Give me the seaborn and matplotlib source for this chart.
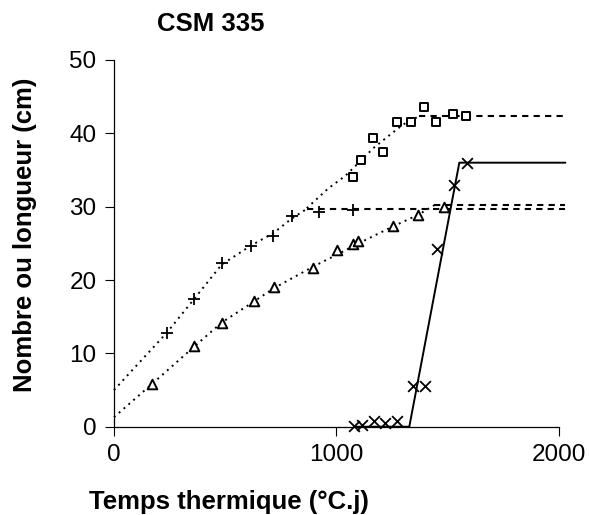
import matplotlib
matplotlib.use("Agg")
import matplotlib.pyplot as plt
import seaborn as sns
import pandas as pd

# Observed values (thermal time in degree-days)
plus_x = [237, 360, 484, 616, 717, 800, 924, 1074]
plus_y = [12.8, 17.4, 22.3, 24.6, 26.0, 28.7, 29.3, 29.6]

tri_x = [170, 360, 484, 631, 720, 894, 1005, 1077, 1099, 1254, 1369, 1484]
tri_y = [5.8, 11.0, 14.2, 17.1, 19.0, 21.7, 24.1, 24.9, 25.3, 27.3, 28.9, 30.0]

sq_x = [1074, 1111, 1167, 1211, 1272, 1336, 1396, 1448, 1526, 1583]
sq_y = [34.1, 36.4, 39.4, 37.5, 41.6, 41.6, 43.6, 41.5, 42.7, 42.4]

cross_x = [1080, 1114, 1171, 1219, 1272, 1346, 1399, 1452, 1530, 1587]
cross_y = [0.1, 0.2, 0.8, 0.5, 0.8, 5.6, 5.5, 24.2, 33.0, 36.0]

# Fitted curves: rising phase (dotted) and plateau (dashed)
plus_fit_x = [0, 237, 360, 484, 616, 717, 800, 867]
plus_fit_y = [5.0, 12.8, 17.4, 22.1, 24.7, 26.4, 28.4, 29.7]
plus_plateau_x = [867, 2030]
plus_plateau_y = [29.7, 29.7]

tri_fit_x = [0, 170, 360, 484, 631, 720, 894, 1005, 1100, 1254, 1369, 1440]
tri_fit_y = [1.3, 5.8, 10.9, 14.2, 17.1, 18.9, 21.8, 23.5, 25.0, 27.3, 28.9, 30.2]
tri_plateau_x = [1440, 2030]
tri_plateau_y = [30.2, 30.2]

sq_fit_x = [867, 964, 1040, 1111, 1167, 1241, 1300, 1370]
sq_fit_y = [29.8, 32.5, 34.2, 36.3, 38.0, 39.8, 41.2, 42.3]
sq_plateau_x = [1370, 2030]
sq_plateau_y = [42.3, 42.3]

cross_fit_x = [1080, 1328, 1553, 2030]
cross_fit_y = [0.0, 0.0, 36.0, 36.0]

x_ticks = [0, 1000, 2000]
y_ticks = [0, 10, 20, 30, 40, 50]

sns.set_style("ticks")
plt.rcParams["font.family"] = ["Liberation Sans", "DejaVu Sans"]
plt.rcParams["text.color"] = "black"

fig = plt.figure(figsize=(5.89, 5.15), dpi=100)
ax = fig.add_axes([0.1935, 0.1714, 0.7551, 0.7121])

dotted = dict(color="black", linewidth=1.4, linestyle=(0, (1, 2.3)), clip_on=False)
dashed = dict(color="black", linewidth=1.5, linestyle=(0, (3, 2.5)), clip_on=False)

sns.lineplot(x=plus_fit_x, y=plus_fit_y, ax=ax, sort=False, **dotted)
sns.lineplot(x=plus_plateau_x, y=plus_plateau_y, ax=ax, sort=False, **dashed)
sns.lineplot(x=tri_fit_x, y=tri_fit_y, ax=ax, sort=False, **dotted)
sns.lineplot(x=tri_plateau_x, y=tri_plateau_y, ax=ax, sort=False, **dashed)
sns.lineplot(x=sq_fit_x, y=sq_fit_y, ax=ax, sort=False, **dotted)
sns.lineplot(x=sq_plateau_x, y=sq_plateau_y, ax=ax, sort=False, **dashed)
sns.lineplot(x=cross_fit_x, y=cross_fit_y, ax=ax, sort=False,
             color="black", linewidth=1.4, clip_on=False)

sns.scatterplot(x=plus_x, y=plus_y, ax=ax, marker="+", s=70,
                color="black", linewidth=1.3, zorder=5, clip_on=False)
sns.scatterplot(x=cross_x, y=cross_y, ax=ax, marker="x", s=60,
                color="black", linewidth=1.3, zorder=5, clip_on=False)
ax.scatter(tri_x, tri_y, marker="^", s=48, facecolors="white",
           edgecolors="black", linewidths=1.4, zorder=5, clip_on=False)
ax.scatter(sq_x, sq_y, marker="s", s=38, facecolors="white",
           edgecolors="black", linewidths=1.4, zorder=5, clip_on=False)

ax.set_xlim(0, 2000)
ax.set_ylim(0, 50)
ax.set_xticks(x_ticks)
ax.set_yticks(y_ticks)
ax.tick_params(direction="out", length=6.5, width=0.8, labelsize=17.5,
               color="black", labelcolor="black", pad=6)
sns.despine(ax=ax)
for side in ("left", "bottom"):
    ax.spines[side].set_linewidth(0.9)
    ax.spines[side].set_color("black")

ax.set_xlabel("")
ax.set_ylabel("")
fig.text(229 / 589, 1 - 502 / 515, "Temps thermique (°C.j)", ha="center",
         va="center", fontsize=18.5, fontweight="bold", color="black")
fig.text(25 / 589, 1 - 235 / 515, "Nombre ou longueur (cm)", ha="center",
         va="center", rotation=90, fontsize=18.5, fontweight="bold", color="black")
fig.text(211 / 589, 1 - 24 / 515, "CSM 335", ha="center", va="center",
         fontsize=18.5, fontweight="bold", color="black")

fig.savefig("out.png", dpi=100)
